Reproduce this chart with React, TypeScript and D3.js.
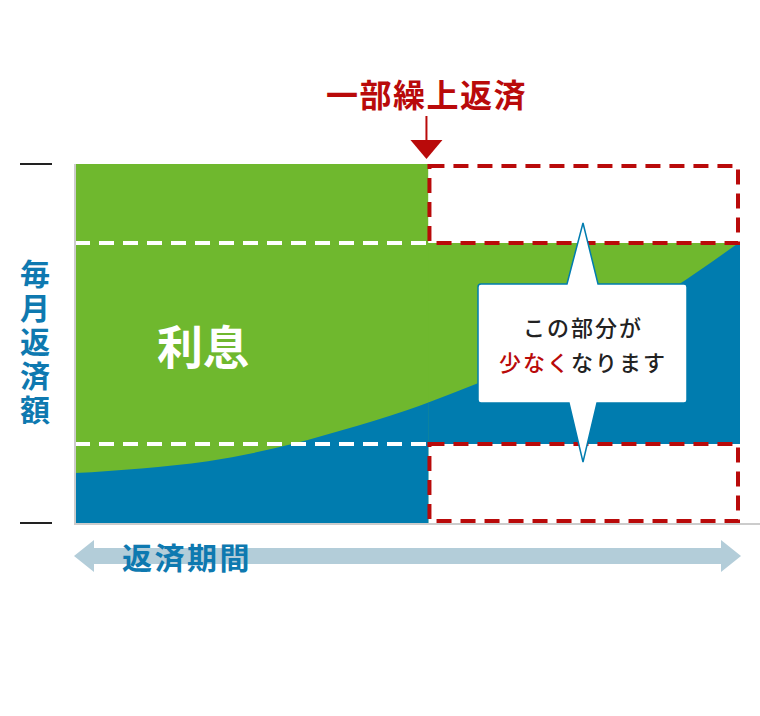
import React from 'react';
import * as d3 from 'd3';

// period along the loan (0 = start, 100 = end) and the principal part of each payment
const periods = [0, 10, 20, 30, 40, 50, 60, 70, 80, 90, 100];
const principal = [13.9, 15.2, 17.2, 20.8, 25.8, 31.5, 38.5, 46.0, 54.5, 65.5, 78.3];

const prepayAt = 53; // 一部繰上返済 point
const fullPayment = 100;
const reducedTop = 78;
const reducedBottom = 22;

const titleText = '一部繰上返済';
const yLabel = '毎月返済額';
const xLabel = '返済期間';
const interestLabel = '利息';

const GREEN = '#6fb82e';
const BLUE = '#007caf';
const RED = '#b90a0a';
const TEXT_BLUE = '#0e79b0';
const FONT = '"Noto Sans CJK JP", "Noto Sans", sans-serif';

const width = 760;
const height = 716;

export default function App() {
  const x = d3.scaleLinear().domain([0, 100]).range([75, 740]);
  const y = d3.scaleLinear().domain([0, fullPayment]).range([523, 164]);

  const area = d3
    .area<number>()
    .x((d, i) => x(periods[i]))
    .y0(y(0))
    .y1((d) => y(d))
    .curve(d3.curveMonotoneX);
  const principalPath = area(principal) || '';

  const xp = x(prepayAt);

  // callout shape
  const cl = 478, cr = 687, ct = 284, cb = 403, cx = 583;
  const callout = `M${cl + 3},${ct} L567,${ct} L${cx},223 L598,${ct} L${cr - 3},${ct} Q${cr},${ct} ${cr},${ct + 3}
    L${cr},${cb - 3} Q${cr},${cb} ${cr - 3},${cb} L597,${cb} L${cx},462 L569,${cb} L${cl + 3},${cb}
    Q${cl},${cb} ${cl},${cb - 3} L${cl},${ct + 3} Q${cl},${ct} ${cl + 3},${ct} Z`;

  return (
    <svg
      width={width}
      height={height}
      style={{ position: 'absolute', left: 0, top: 0, background: '#fff' }}
      fontFamily={FONT}
    >
      <defs>
        <clipPath id="clip-before">
          <rect x={x(0)} y={y(fullPayment)} width={xp - x(0) + 1} height={y(0) - y(fullPayment)} />
        </clipPath>
        <clipPath id="clip-after">
          <rect x={xp} y={y(reducedTop)} width={x(100) - xp} height={y(reducedBottom) - y(reducedTop)} />
        </clipPath>
      </defs>

      {/* after prepayment */}
      <g clipPath="url(#clip-after)">
        <rect x={xp} y={y(reducedTop)} width={x(100) - xp} height={y(reducedBottom) - y(reducedTop)} fill={GREEN} />
        <path d={principalPath} fill={BLUE} />
      </g>

      {/* before prepayment */}
      <g clipPath="url(#clip-before)">
        <rect x={x(0)} y={y(fullPayment)} width={xp - x(0) + 1} height={y(0) - y(fullPayment)} fill={GREEN} />
        <path d={principalPath} fill={BLUE} />
      </g>

      {/* white dashed levels */}
      {[reducedTop, reducedBottom].map((v) => (
        <line key={v} x1={x(0)} x2={xp} y1={y(v)} y2={y(v)} stroke="#fff" strokeWidth={4} strokeDasharray="15 9" />
      ))}

      {/* red dashed boxes */}
      <rect x={xp + 2} y={y(fullPayment) + 2} width={x(100) - xp - 4} height={y(reducedTop) - y(fullPayment) - 2}
        fill="none" stroke={RED} strokeWidth={4} strokeDasharray="15 9" />
      <rect x={xp + 2} y={y(reducedBottom)} width={x(100) - xp - 4} height={y(0) - y(reducedBottom) - 2}
        fill="none" stroke={RED} strokeWidth={4} strokeDasharray="15 9" />

      {/* axes */}
      <line x1={x(0)} x2={x(0)} y1={y(fullPayment)} y2={525} stroke="#ccc" strokeWidth={2} />
      <line x1={x(0) - 1} x2={760} y1={524} y2={524} stroke="#ccc" strokeWidth={2} />
      {[fullPayment, 0].map((v) => (
        <line key={v} x1={20} x2={52} y1={y(v)} y2={y(v)} stroke="#222" strokeWidth={2} />
      ))}

      {/* title + arrow */}
      <text x={xp - 1} y={93} textAnchor="middle" dominantBaseline="central" fontSize={32}
        fontWeight="bold" fill={RED} letterSpacing={1.5}>{titleText}</text>
      <line x1={xp - 1} x2={xp - 1} y1={116} y2={142} stroke={RED} strokeWidth={2} />
      <path d={`M${xp - 17},140 L${xp + 15},140 L${xp - 1},159 Z`} fill={RED} />

      {/* interest label */}
      <text x={203} y={344} textAnchor="middle" dominantBaseline="central" fontSize={46}
        fontWeight="bold" fill="#fff">{interestLabel}</text>

      {/* callout */}
      <path d={callout} fill="#fff" stroke={BLUE} strokeWidth={1.5} />
      <text x={cx} y={326} textAnchor="middle" dominantBaseline="central" fontSize={22}
        fontWeight={500} fill="#222" letterSpacing={2}>この部分が</text>
      <text x={cx} y={361} textAnchor="middle" dominantBaseline="central" fontSize={22}
        fontWeight={500} fill="#222" letterSpacing={2}>
        <tspan fill={RED}>少なく</tspan>なります
      </text>

      {/* y label, vertical */}
      <text x={35} y={259} fontSize={30} fontWeight="bold" fill={TEXT_BLUE}
        style={{ writingMode: 'vertical-rl', letterSpacing: '4px' }}>{yLabel}</text>

      {/* x arrow */}
      <path
        d={`M${x(0) - 1},556 L${x(0) + 19},540 L${x(0) + 19},548 L${x(100) - 19},548 L${x(100) - 19},540
          L${x(100) + 1},556 L${x(100) - 19},572 L${x(100) - 19},564 L${x(0) + 19},564 L${x(0) + 19},572 Z`}
        fill="#b3cdd9"
      />
      <text x={187} y={556} textAnchor="middle" dominantBaseline="central" fontSize={30}
        fontWeight="bold" fill={TEXT_BLUE} letterSpacing={2.5}>{xLabel}</text>
    </svg>
  );
}
